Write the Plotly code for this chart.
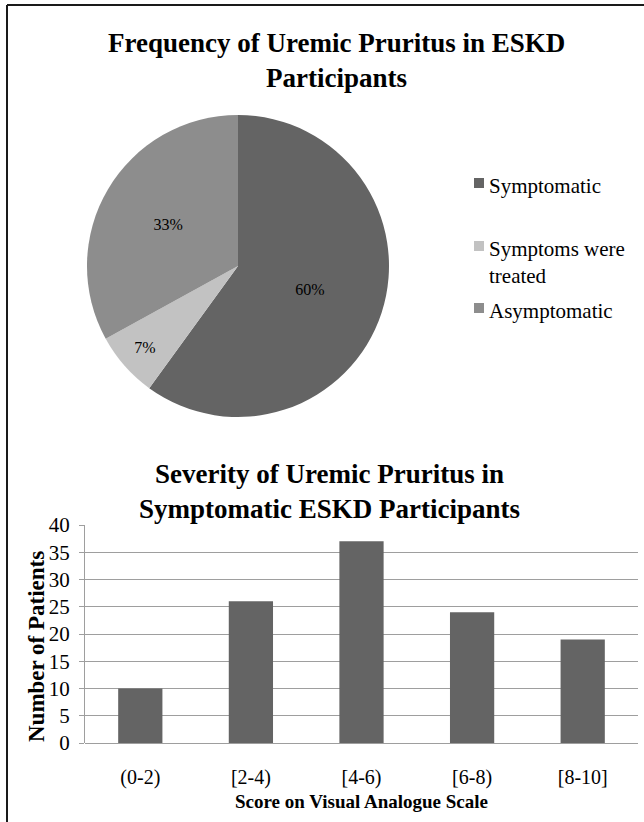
import plotly.graph_objects as go

# Pie: frequency of uremic pruritus
pie_labels = ["Symptomatic", "Symptoms were treated", "Asymptomatic"]
pie_legend_text = ["Symptomatic", "Symptoms were<br>treated", "Asymptomatic"]
pie_values = [60, 7, 33]
pie_colors = ["#646464", "#c2c2c2", "#8d8d8d"]

# Bars: severity on the visual analogue scale
score_bins = ["(0-2)", "[2-4)", "[4-6)", "[6-8)", "[8-10]"]
patient_counts = [10, 26, 37, 24, 19]
y_ticks = [0, 5, 10, 15, 20, 25, 30, 35, 40]

W, H = 644, 822
SERIF = "Liberation Serif"


def px_x(x):
    return x / W


def px_y(y):
    return 1 - y / H


fig = go.Figure()

fig.add_trace(go.Pie(
    labels=pie_labels,
    values=pie_values,
    marker=dict(colors=pie_colors, line=dict(width=0)),
    sort=False,
    direction="clockwise",
    rotation=0,
    texttemplate="%{percent:.0%}",
    textposition="inside",
    insidetextorientation="horizontal",
    textfont=dict(family=SERIF, size=16, color="#000000"),
    domain=dict(x=[px_x(87), px_x(389)], y=[px_y(417), px_y(115)]),
    showlegend=False,
    hoverinfo="label+percent",
))

fig.add_trace(go.Bar(
    x=score_bins,
    y=patient_counts,
    marker=dict(color="#646464", line=dict(width=0)),
    width=0.4,
    xaxis="x",
    yaxis="y",
    showlegend=False,
))

annotations = [
    dict(text="<b>Frequency of Uremic Pruritus in ESKD<br>Participants</b>",
         x=px_x(336), y=px_y(61), xref="paper", yref="paper",
         showarrow=False, font=dict(family=SERIF, size=27, color="#000000"),
         xanchor="center", yanchor="middle"),
    dict(text="<b>Severity of Uremic Pruritus in<br>Symptomatic ESKD Participants</b>",
         x=px_x(329), y=px_y(491), xref="paper", yref="paper",
         showarrow=False, font=dict(family=SERIF, size=27, color="#000000"),
         xanchor="center", yanchor="middle"),
    dict(text="<b>Number of Patients</b>",
         x=px_x(36), y=px_y(647), xref="paper", yref="paper",
         showarrow=False, textangle=-90,
         font=dict(family=SERIF, size=23, color="#000000"),
         xanchor="center", yanchor="middle"),
    dict(text="<b>Score on Visual Analogue Scale</b>",
         x=px_x(361), y=px_y(801), xref="paper", yref="paper",
         showarrow=False, font=dict(family=SERIF, size=19, color="#000000"),
         xanchor="center", yanchor="middle"),
]

# Legend for the pie: swatch plus label per slice
legend_rows = [185, 248, 310]
shapes = []
for text, color, yc in zip(pie_legend_text, pie_colors, legend_rows):
    annotations.append(dict(
        text=text, x=px_x(487), y=px_y(yc - 13), xref="paper", yref="paper",
        showarrow=False, align="left", xanchor="left", yanchor="top",
        font=dict(family=SERIF, size=21, color="#000000"),
    ))
    shapes.append(dict(
        type="rect", xref="paper", yref="paper",
        x0=px_x(474), x1=px_x(484), y0=px_y(yc + 3), y1=px_y(yc - 7),
        fillcolor=color, line=dict(width=0),
    ))

# Frame lines along the top and left edge
shapes.append(dict(type="line", xref="paper", yref="paper",
                   x0=px_x(7), x1=1, y0=px_y(5), y1=px_y(5),
                   line=dict(color="#1a1a1a", width=2)))
shapes.append(dict(type="line", xref="paper", yref="paper",
                   x0=px_x(7), x1=px_x(7), y0=px_y(5), y1=0,
                   line=dict(color="#1a1a1a", width=2)))

fig.update_layout(
    width=W, height=H,
    margin=dict(l=0, r=0, t=0, b=0, pad=0, autoexpand=False),
    paper_bgcolor="#ffffff",
    plot_bgcolor="#ffffff",
    annotations=annotations,
    shapes=shapes,
    xaxis=dict(
        domain=[px_x(85), px_x(638)],
        anchor="y",
        showgrid=False,
        showline=False,
        ticks="",
        automargin=False,
        tickfont=dict(family=SERIF, size=20, color="#000000"),
        ticklabelstandoff=20,
    ),
    yaxis=dict(
        domain=[px_y(743), px_y(525)],
        anchor="x",
        range=[0, 40],
        tickvals=y_ticks,
        showgrid=True,
        gridcolor="#9e9e9e",
        gridwidth=1,
        showline=True,
        linecolor="#9e9e9e",
        linewidth=1,
        ticks="outside",
        ticklen=5,
        tickcolor="#9e9e9e",
        automargin=False,
        tickfont=dict(family=SERIF, size=21, color="#000000"),
        ticklabelstandoff=5,
        zeroline=True,
        zerolinecolor="#9e9e9e",
        zerolinewidth=1,
    ),
    font=dict(family=SERIF),
)

fig.write_html("out.html")
